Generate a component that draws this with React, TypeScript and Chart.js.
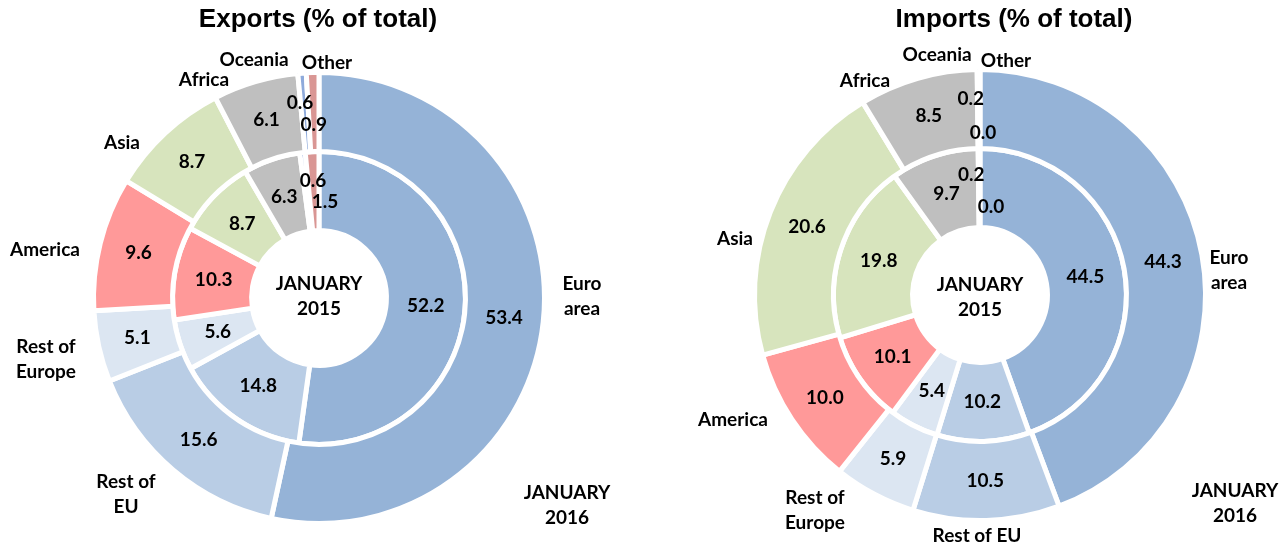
import React, { useEffect, useRef } from 'react';
import { Chart, registerables } from 'chart.js';

Chart.register(...registerables);

const FONT = 'Lato, "Open Sans", "DejaVu Sans", sans-serif';
const TITLE_FONT = '"Liberation Sans", Arial, sans-serif';

// ---- data ----
const categories = ['Euro area', 'Rest of EU', 'Rest of Europe', 'America', 'Asia', 'Africa', 'Oceania', 'Other'];
const exports2016 = [53.4, 15.6, 5.1, 9.6, 8.7, 6.1, 0.6, 0.9];
const exports2015 = [52.2, 14.8, 5.6, 10.3, 8.7, 6.3, 0.6, 1.5];
const imports2016 = [44.3, 10.5, 5.9, 10.0, 20.6, 8.5, 0.2, 0.0];
const imports2015 = [44.5, 10.2, 5.4, 10.1, 19.8, 9.7, 0.2, 0.0];
const outerPeriod = ['JANUARY', '2016'];
const innerPeriod = ['JANUARY', '2015'];
const exportsTitle = 'Exports (% of total)';
const importsTitle = 'Imports (% of total)';

// ---- styles ----
const sliceColors = ['#95B3D7', '#B9CDE5', '#DCE6F2', '#FF9999', '#D7E4BD', '#BFBFBF', '#8EAADB', '#D99694'];

type LabelPos = { dx: number; dy: number; wrap: boolean };

type Panel = {
  title: string;
  titleX: number;
  outer: number[];
  inner: number[];
  padding: { left: number; right: number; top: number; bottom: number };
  catPos: LabelPos[];
  valueNudge: Record<string, [number, number]>;
  centerDy: number;
  periodPos: [number, number];
};

const W = 644;
const H = 546;

const exportsPanel: Panel = {
  title: exportsTitle,
  titleX: 318,
  outer: exports2016,
  inner: exports2015,
  padding: { left: 91, right: 97, top: 70, bottom: 20 },
  catPos: [
    { dx: 263, dy: -2, wrap: true },
    { dx: -193, dy: 196, wrap: true },
    { dx: -273, dy: 61, wrap: true },
    { dx: -274, dy: -48, wrap: false },
    { dx: -197, dy: -155, wrap: false },
    { dx: -115, dy: -218, wrap: false },
    { dx: -65, dy: -238, wrap: false },
    { dx: 8, dy: -235, wrap: false },
  ],
  valueNudge: {
    '0:6': [-5, -10],
    '0:7': [0, 13],
    '1:6': [6, -11],
    '1:7': [11, 11],
  },
  centerDy: -1.5,
  periodPos: [248, 207],
};

const importsPanel: Panel = {
  title: importsTitle,
  titleX: 370,
  outer: imports2016,
  inner: imports2015,
  padding: { left: 108, right: 80, top: 67, bottom: 23 },
  catPos: [
    { dx: 249, dy: -25, wrap: true },
    { dx: -3, dy: 241, wrap: false },
    { dx: -165, dy: 215, wrap: true },
    { dx: -247, dy: 125, wrap: false },
    { dx: -245, dy: -56, wrap: false },
    { dx: -115, dy: -214, wrap: false },
    { dx: -43, dy: -240, wrap: false },
    { dx: 26, dy: -234, wrap: false },
  ],
  valueNudge: {
    '0:6': [-8, -10],
    '0:7': [3, 24],
    '1:6': [-8, -13],
    '1:7': [11, 19],
  },
  centerDy: 2,
  periodPos: [255, 208],
};

function wrapLabel(s: string): string[] {
  if (s.startsWith('Rest of ')) return ['Rest of', s.slice(8)];
  const i = s.lastIndexOf(' ');
  return i > 0 ? [s.slice(0, i), s.slice(i + 1)] : [s];
}

function drawLines(ctx: CanvasRenderingContext2D, lines: string[], x: number, y: number, lh: number) {
  const start = y - ((lines.length - 1) * lh) / 2;
  lines.forEach((l, k) => ctx.fillText(l, x, start + k * lh));
}

function makePlugin(p: Panel) {
  return {
    id: 'panelLabels',
    afterDatasetsDraw(chart: any) {
      const ctx: CanvasRenderingContext2D = chart.ctx;
      ctx.save();
      ctx.fillStyle = '#000';
      ctx.textAlign = 'center';
      ctx.textBaseline = 'middle';

      // title
      ctx.font = `bold 26px ${TITLE_FONT}`;
      ctx.fillText(p.title, p.titleX, 20);

      ctx.font = `bold 19px ${FONT}`;
      let cx = 0;
      let cy = 0;
      chart.data.datasets.forEach((ds: any, di: number) => {
        const meta = chart.getDatasetMeta(di);
        meta.data.forEach((arc: any, i: number) => {
          const { x, y, startAngle, endAngle, innerRadius, outerRadius } = arc.getProps(
            ['x', 'y', 'startAngle', 'endAngle', 'innerRadius', 'outerRadius'],
            true
          );
          cx = x;
          cy = y;
          const mid = (startAngle + endAngle) / 2;
          const r = (innerRadius + outerRadius) / 2;
          const n = p.valueNudge[`${di}:${i}`] || [0, 0];
          ctx.fillText(
            Number(ds.data[i]).toFixed(1),
            x + Math.cos(mid) * r + n[0],
            y + Math.sin(mid) * r + n[1]
          );
        });
      });

      // category labels
      categories.forEach((c, i) => {
        const pos = p.catPos[i];
        const lines = pos.wrap ? wrapLabel(c) : [c];
        drawLines(ctx, lines, cx + pos.dx, cy + pos.dy, 25);
      });

      // period labels
      drawLines(ctx, innerPeriod, cx, cy + p.centerDy, 25);
      drawLines(ctx, outerPeriod, cx + p.periodPos[0], cy + p.periodPos[1], 25);
      ctx.restore();
    },
  };
}

function DoughnutPanel({ panel, left }: { panel: Panel; left: number }) {
  const ref = useRef<HTMLCanvasElement | null>(null);
  useEffect(() => {
    if (!ref.current) return;
    const chart = new Chart(ref.current, {
      type: 'doughnut',
      data: {
        labels: categories,
        datasets: [
          { label: outerPeriod.join(' '), data: panel.outer, backgroundColor: sliceColors, borderColor: '#fff', borderWidth: 5 },
          { label: innerPeriod.join(' '), data: panel.inner, backgroundColor: sliceColors, borderColor: '#fff', borderWidth: 5 },
        ],
      },
      options: {
        responsive: false,
        animation: false,
        cutout: '29.9%',
        layout: { padding: panel.padding },
        plugins: { legend: { display: false }, tooltip: { enabled: false }, title: { display: false } },
        events: [],
      },
      plugins: [makePlugin(panel)],
    } as any);
    return () => chart.destroy();
  }, [panel]);
  return (
    <canvas
      ref={ref}
      width={W}
      height={H}
      style={{ position: 'absolute', left, top: 0, width: W, height: H, display: 'block' }}
    />
  );
}

export default function App() {
  return (
    <div style={{ position: 'fixed', left: 0, top: 0, width: 1288, height: 546, background: '#fff', overflow: 'hidden' }}>
      <DoughnutPanel panel={exportsPanel} left={0} />
      <DoughnutPanel panel={importsPanel} left={644} />
    </div>
  );
}
